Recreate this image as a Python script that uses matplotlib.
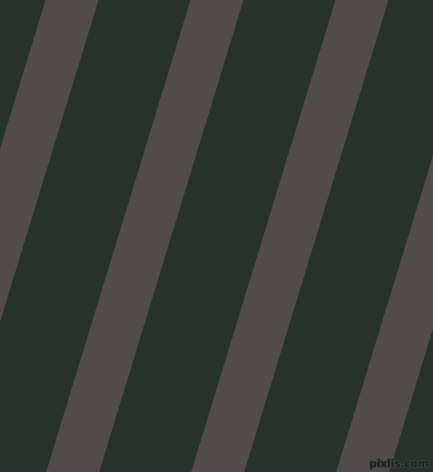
import numpy as np
import matplotlib.pyplot as plt
import matplotlib.patheffects as pe

# canvas size in pixels
W, H = 433, 472

# stripe pattern: left edge of each stripe along the top row (px)
stripe_starts = [-99.5, 45.5, 190.5, 335.5, 480.5]
stripe_width = 53.0       # horizontal width of a stripe
angle_deg = 73.0          # stripe angle from horizontal

bg_color = '#28322c'
stripe_color = '#514b4c'
watermark = 'pixlis.com'

shift = H / np.tan(np.radians(angle_deg))   # how far a stripe moves left from top to bottom

fig = plt.figure(figsize=(W / 100, H / 100), dpi=100)
ax = fig.add_axes([0, 0, 1, 1])
ax.set_facecolor(bg_color)
fig.patch.set_facecolor(bg_color)

for x0 in stripe_starts:
    xs = [x0, x0 + stripe_width, x0 + stripe_width - shift, x0 - shift]
    ys = [0, 0, H, H]
    ax.fill(xs, ys, color=stripe_color, linewidth=0)

ax.text(W - 4, H - 3, watermark, ha='right', va='bottom', fontsize=7.5,
        color='#1c221e', fontweight='bold',
        path_effects=[pe.withStroke(linewidth=1.2, foreground='#3a433d')])

ax.set_xlim(0, W)
ax.set_ylim(H, 0)
ax.axis('off')

plt.savefig('out.png', dpi=100, facecolor=bg_color)
